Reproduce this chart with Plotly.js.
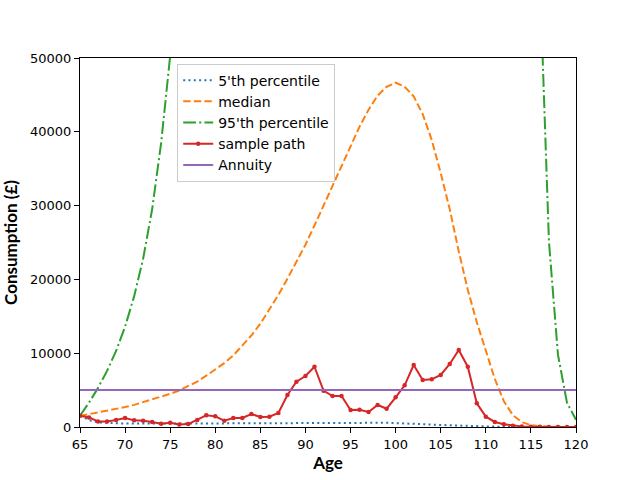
<!DOCTYPE html>
<html>
<head>
<meta charset="utf-8">
<script src="https://cdn.plot.ly/plotly-3.0.1.min.js"></script>
<style>
  body { margin: 0; }
  #plot { width: 640px; height: 480px; }
</style>
</head>
<body>
<div id="plot"></div>
<script>

// edades (eje x)
const ages = [65, 66, 67, 68, 69, 70, 71, 72, 73, 74, 75, 76, 77, 78, 79, 80,
  81, 82, 83, 84, 85, 86, 87, 88, 89, 90, 91, 92, 93, 94, 95, 96, 97, 98, 99, 100,
  101, 102, 103, 104, 105, 106, 107, 108, 109, 110, 111, 112, 113, 114, 115, 116,
  117, 118, 119, 120];

// percentil 5
const p5 = [1500, 950, 630, 540, 500, 480, 470, 465, 460, 460, 460, 462, 465, 470, 475, 480,
  490, 500, 510, 515, 520, 530, 540, 550, 555, 560, 565, 570, 575, 578, 580, 580, 578, 575, 570, 530,
  500, 460, 400, 330, 270, 220, 170, 120, 80, 50, 30, 15, 5, 0, 0, 0,
  0, 0, 0, 0];

// mediana
const median = [1500, 1720, 1950, 2200, 2450, 2700, 3000, 3350, 3700, 4100, 4500, 4950, 5500, 6150, 6950, 7750,
  8650, 9700, 11000, 12400, 14000, 15900, 17900, 20100, 22300, 24700, 27300, 30000, 32700, 35400, 38200, 40700, 43000, 44900, 46100, 46650,
  46100, 44800, 42400, 38900, 34400, 29500, 23800, 18600, 14200, 10300, 6500, 3500, 1600, 650, 250, 100,
  40, 10, 0, 0];

// percentil 95 (la parte central queda fuera del grafico)
const p95 = [1530, 3300, 5300, 7600, 10300, 13600, 17700, 22800, 29500, 38500, 50300, 68000, 88000, 110000, 135000, 160000,
  185000, 210000, 235000, 260000, 285000, 305000, 325000, 340000, 355000, 365000, 372000, 377000, 380000, 380000, 378000, 372000, 362000, 348000, 330000, 308000,
  283000, 256000, 228000, 200000, 172000, 150000, 135000, 122000, 110000, 100000, 92000, 85000, 78000, 72000, 66000, 60700,
  25100, 9800, 3300, 980];

// trayectoria de ejemplo
const samplePath = [1530, 1300, 760, 760, 950, 1220, 900, 860, 680, 450, 580, 350, 400, 950, 1580, 1440,
  860, 1220, 1220, 1760, 1350, 1400, 1900, 4340, 6140, 6910, 8170, 4920, 4200, 4200, 2300, 2330, 2030, 2980, 2480, 4020,
  5650, 8400, 6370, 6460, 7050, 8540, 10430, 8170, 3210, 1400, 680, 360, 180, 80, 40, 20,
  10, 5, 0, 0];

// renta vitalicia
const annuityAges = [65, 120];
const annuity = [5000, 5000];

const xTicks = [65, 70, 75, 80, 85, 90, 95, 100, 105, 110, 115, 120];
const yTicks = [0, 10000, 20000, 30000, 40000, 50000];

// patrones de linea estilo matplotlib (lw 1.5pt)
const traces = [
  {x: ages, y: p5, name: "5'th percentile", mode: 'lines',
   line: {color: '#1f77b4', width: 2, dash: '2px,3.3px'}},
  {x: ages, y: median, name: 'median', mode: 'lines',
   line: {color: '#ff7f0e', width: 2, dash: '7.4px,3.2px'}},
  {x: ages, y: p95, name: "95'th percentile", mode: 'lines',
   line: {color: '#2ca02c', width: 2, dash: '12.8px,3.2px,2px,3.2px'}},
  {x: ages, y: samplePath, name: 'sample path', mode: 'lines+markers',
   line: {color: '#d62728', width: 2}, marker: {color: '#d62728', size: 4.5}},
  {x: annuityAges, y: annuity, name: 'Annuity', mode: 'lines',
   line: {color: '#9467bd', width: 2}}
];

const axisBase = {
  showline: true, mirror: true, linecolor: 'black', linewidth: 1,
  ticks: 'outside', ticklen: 5, tickwidth: 1, tickcolor: 'black',
  showgrid: false, zeroline: false,
  tickfont: {family: 'DejaVu Sans', size: 13, color: 'black'}
};

const layout = {
  width: 640, height: 480,
  margin: {l: 80, r: 64, t: 58, b: 53},
  paper_bgcolor: 'white', plot_bgcolor: 'white',
  showlegend: true,
  legend: {
    x: 0.196, y: 0.985, xanchor: 'left', yanchor: 'top',
    bgcolor: 'rgba(255,255,255,0.8)', bordercolor: '#cccccc', borderwidth: 1,
    font: {family: 'DejaVu Sans', size: 14, color: 'black'}
  },
  xaxis: Object.assign({}, axisBase, {
    range: [65, 120], tickvals: xTicks,
    title: {text: 'Age', standoff: 6,
            font: {family: 'Lato', size: 17, weight: 'bold', color: 'black'}}
  }),
  yaxis: Object.assign({}, axisBase, {
    range: [0, 50000], tickvals: yTicks, tickformat: 'd',
    title: {text: 'Consumption (£)', standoff: 8,
            font: {family: 'Lato', size: 17, weight: 'bold', color: 'black'}}
  })
};

Plotly.newPlot('plot', traces, layout, {staticPlot: true});
</script>
</body>
</html>
